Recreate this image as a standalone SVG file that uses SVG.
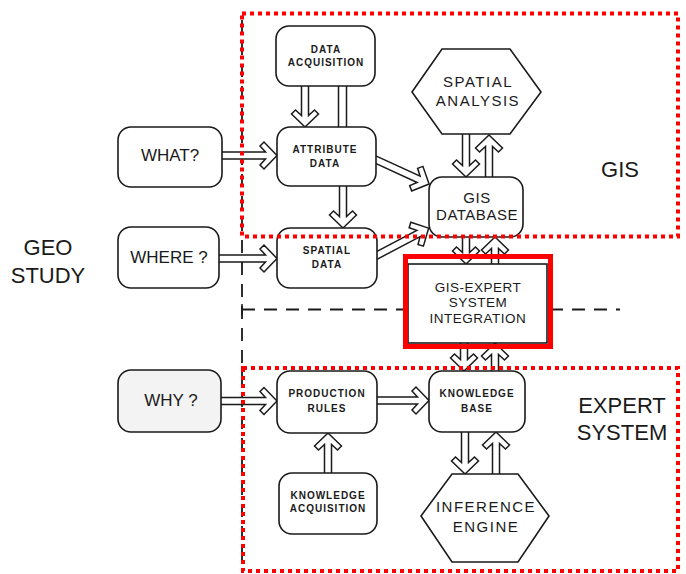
<svg xmlns="http://www.w3.org/2000/svg" width="686" height="574" viewBox="0 0 686 574">
<style>
.bg{fill:#ffffff}
.box{fill:#ffffff;stroke:#1a1a1a;stroke-width:1.6}
.arr{fill:#ffffff;stroke:#1a1a1a;stroke-width:1.5;stroke-linejoin:miter}
.ln{fill:none;stroke:#1a1a1a;stroke-width:1.5}
.dash{fill:none;stroke:#1a1a1a;stroke-width:1.8;stroke-dasharray:13 9}
.sm{font-family:"Liberation Sans",Arial,sans-serif;font-size:10px;font-weight:bold;letter-spacing:1px;fill:#1a1a1a;text-anchor:middle}
.md{font-family:"Liberation Sans",Arial,sans-serif;font-size:15px;letter-spacing:1.5px;fill:#1a1a1a;text-anchor:middle}
.q{font-family:"Liberation Sans",Arial,sans-serif;font-size:17px;fill:#1a1a1a;text-anchor:middle}
.lg{font-family:"Liberation Sans",Arial,sans-serif;font-size:22px;fill:#1a1a1a;text-anchor:middle}
.red{fill:none;stroke:#ff0000;stroke-width:4;stroke-dasharray:4 4}
.redsolid{fill:none;stroke:#ff0000;stroke-width:5}
</style>
<rect class="bg" x="0" y="0" width="686" height="574"/>

<g id="dividers">
<line class="dash" x1="242" y1="20" x2="242" y2="560"/>
<line class="dash" x1="242" y1="309.5" x2="620" y2="309.5"/>
<line class="ln" x1="242" y1="304" x2="242" y2="315"/>
</g>

<g id="connectors">
<path class="arr" transform="translate(305,80) rotate(90)" d="M0,-3.5 H35.5 L30,-9.5 L34,-13.5 L47,0 L34,13.5 L30,9.5 L35.5,3.5 H0"/>
<line class="ln" x1="338.5" y1="86" x2="338.5" y2="127"/>
<line class="ln" x1="346.5" y1="86" x2="346.5" y2="127"/>
<path class="arr" transform="translate(215,155.5)" d="M0,-3.5 H50.5 L45,-9.5 L49,-13.5 L62,0 L49,13.5 L45,9.5 L50.5,3.5 H0"/>
<path class="arr" transform="translate(343,180) rotate(90)" d="M0,-3.5 H36.5 L31,-9.5 L35,-13.5 L48,0 L35,13.5 L31,9.5 L36.5,3.5 H0"/>
<path class="arr" transform="translate(213,258.5)" d="M0,-3.5 H52.5 L47,-9.5 L51,-13.5 L64,0 L51,13.5 L47,9.5 L52.5,3.5 H0"/>
<path class="arr" transform="translate(370,157) rotate(24.6)" d="M0,-3.5 H53.5 L48,-9.5 L52,-13.5 L65,0 L52,13.5 L48,9.5 L53.5,3.5 H0"/>
<path class="arr" transform="translate(372,258) rotate(-27.8)" d="M0,-3.5 H52.5 L47,-9.5 L51,-13.5 L64,0 L51,13.5 L47,9.5 L52.5,3.5 H0"/>
<path class="arr" transform="translate(466,128) rotate(90)" d="M0,-3.5 H37.5 L32,-9.5 L36,-13.5 L49,0 L36,13.5 L32,9.5 L37.5,3.5 H0"/>
<path class="arr" transform="translate(489,183) rotate(-90)" d="M0,-3.5 H36.5 L31,-9.5 L35,-13.5 L48,0 L35,13.5 L31,9.5 L36.5,3.5 H0"/>
<path class="arr" transform="translate(466,231) rotate(90)" d="M0,-3.5 H21.5 L16,-9.5 L20,-13.5 L33,0 L20,13.5 L16,9.5 L21.5,3.5 H0"/>
<path class="arr" transform="translate(495,270) rotate(-90)" d="M0,-3.5 H21.5 L16,-9.5 L20,-13.5 L33,0 L20,13.5 L16,9.5 L21.5,3.5 H0"/>
<path class="arr" transform="translate(464,337) rotate(90)" d="M0,-3.5 H22.5 L17,-9.5 L21,-13.5 L34,0 L21,13.5 L17,9.5 L22.5,3.5 H0"/>
<path class="arr" transform="translate(495,377) rotate(-90)" d="M0,-3.5 H22.5 L17,-9.5 L21,-13.5 L34,0 L21,13.5 L17,9.5 L22.5,3.5 H0"/>
<path class="arr" transform="translate(371,400.5)" d="M0,-3.5 H46.5 L41,-9.5 L45,-13.5 L58,0 L45,13.5 L41,9.5 L46.5,3.5 H0"/>
<path class="arr" transform="translate(215,401)" d="M0,-3.5 H50.5 L45,-9.5 L49,-13.5 L62,0 L49,13.5 L45,9.5 L50.5,3.5 H0"/>
<path class="arr" transform="translate(328,478) rotate(-90)" d="M0,-3.5 H33.5 L28,-9.5 L32,-13.5 L45,0 L32,13.5 L28,9.5 L33.5,3.5 H0"/>
<path class="arr" transform="translate(465,426) rotate(90)" d="M0,-3.5 H36.5 L31,-9.5 L35,-13.5 L48,0 L35,13.5 L31,9.5 L36.5,3.5 H0"/>
<path class="arr" transform="translate(496,480) rotate(-90)" d="M0,-3.5 H36.5 L31,-9.5 L35,-13.5 L48,0 L35,13.5 L31,9.5 L36.5,3.5 H0"/>
</g>

<g id="data-acquisition">
<rect class="box" x="276" y="26" width="99" height="60" rx="13"/>
<text class="sm" x="326" y="53">DATA</text>
<text class="sm" x="326" y="66">ACQUISITION</text>
</g>
<g id="spatial-analysis">
<polygon class="box" points="412,92 442,49 510,49 541,92 510,134 442,134"/>
<text class="md" x="478" y="87">SPATIAL</text>
<text class="md" x="478" y="106">ANALYSIS</text>
</g>
<g id="attribute-data">
<rect class="box" x="277" y="127" width="99" height="59" rx="13"/>
<text class="sm" x="325" y="153">ATTRIBUTE</text>
<text class="sm" x="325" y="167">DATA</text>
</g>
<g id="gis-database">
<rect class="box" x="429" y="177" width="94" height="60" rx="13"/>
<text class="md" x="477" y="203" style="letter-spacing:0.5px">GIS</text>
<text class="md" x="477" y="220" style="letter-spacing:0.5px">DATABASE</text>
</g>
<g id="what">
<rect class="box" x="118" y="127" width="104" height="60" rx="13"/>
<text class="q" x="170" y="161">WHAT?</text>
</g>
<g id="where">
<rect class="box" x="118" y="227" width="101" height="61" rx="13"/>
<text class="q" x="169" y="263">WHERE ?</text>
</g>
<g id="spatial-data">
<rect class="box" x="277" y="228" width="100" height="60" rx="13"/>
<text class="sm" x="327" y="254">SPATIAL</text>
<text class="sm" x="327" y="268">DATA</text>
</g>
<g id="integration">
<rect class="box" x="408" y="264" width="139" height="79"/>
<text class="md" x="478" y="292" style="font-size:13.5px;letter-spacing:0.5px">GIS-EXPERT</text>
<text class="md" x="478" y="307" style="font-size:13.5px;letter-spacing:0.5px">SYSTEM</text>
<text class="md" x="478" y="323" style="font-size:13.5px;letter-spacing:0.5px">INTEGRATION</text>
</g>
<g id="why">
<rect class="box" x="118" y="370" width="103" height="62" rx="13" style="fill:#f3f3f3"/>
<text class="q" x="171" y="406">WHY ?</text>
</g>
<g id="production-rules">
<rect class="box" x="277" y="371" width="100" height="62" rx="13"/>
<text class="sm" x="327" y="397">PRODUCTION</text>
<text class="sm" x="327" y="412">RULES</text>
</g>
<g id="knowledge-acquisition">
<rect class="box" x="279" y="473" width="98" height="61" rx="13"/>
<text class="sm" x="328" y="499">KNOWLEDGE</text>
<text class="sm" x="328" y="512">ACQUISITION</text>
</g>
<g id="knowledge-base">
<rect class="box" x="429" y="371" width="96" height="61" rx="13"/>
<text class="sm" x="477" y="397">KNOWLEDGE</text>
<text class="sm" x="477" y="412">BASE</text>
</g>
<g id="inference-engine">
<polygon class="box" points="421,516 452,474 518,474 549,516 518,562 452,562"/>
<text class="md" x="486" y="512">INFERENCE</text>
<text class="md" x="486" y="532">ENGINE</text>
</g>

<g id="labels">
<text class="lg" x="48" y="255">GEO</text>
<text class="lg" x="48" y="283">STUDY</text>
<text class="lg" x="620" y="177">GIS</text>
<text class="lg" x="622" y="413">EXPERT</text>
<text class="lg" x="622" y="440">SYSTEM</text>
</g>

<g id="highlights">
<rect class="red" x="242" y="13.5" width="436" height="223"/>
<rect class="red" x="243" y="368" width="435" height="203"/>
<rect class="redsolid" x="405.5" y="256.5" width="145" height="90"/>
</g>
</svg>
